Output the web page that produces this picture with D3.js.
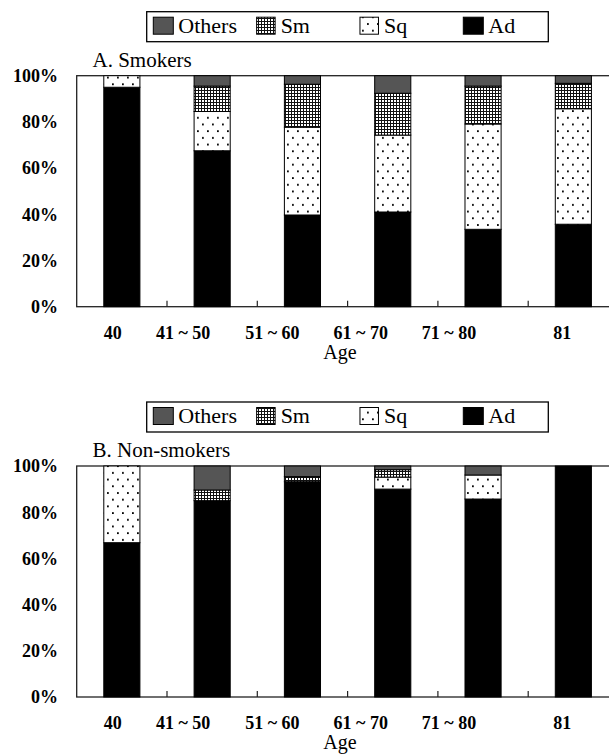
<!DOCTYPE html>
<html>
<head>
<meta charset="utf-8">
<script src="https://cdn.jsdelivr.net/npm/d3@7"></script>
<style>
  body { margin: 0; background: #fff; }
  svg { display: block; }
</style>
</head>
<body>
<div id="viz"></div>
<script>
// chart values
const ages = ["40", "41 ~ 50", "51 ~ 60", "61 ~ 70", "71 ~ 80", "81"];
const keys = ["Ad", "Sq", "Sm", "Others"]; // bottom to top
const legendKeys = ["Others", "Sm", "Sq", "Ad"];
const yTicks = [0, 20, 40, 60, 80, 100];

const smokersAd = [95, 67.5, 39.7, 41, 33.5, 35.7];
const smokersSq = [5, 17, 38, 33.3, 45.6, 50];
const smokersSm = [0, 11, 18.6, 18.1, 16.4, 11];
const smokersOthers = [0, 4.5, 3.7, 7.6, 4.5, 3.3];

const nonAd = [66.8, 85, 93.2, 90, 85.7, 100];
const nonSq = [33.2, 0, 0, 5.2, 10.4, 0];
const nonSm = [0, 4.6, 2.2, 3.2, 0, 0];
const nonOthers = [0, 10.4, 4.6, 1.6, 3.9, 0];

const panels = [
  { title: "A. Smokers", top: 75.7, ad: smokersAd, sq: smokersSq, sm: smokersSm, others: smokersOthers },
  { title: "B. Non-smokers", top: 466, ad: nonAd, sq: nonSq, sm: nonSm, others: nonOthers }
];

const W = 609, H = 756,
    plotLeft = 76.7,
    band = 90.3,
    plotH = 231,
    labelShift = [-9, -29, -30, -32, -34, -11], // the age labels sit left of the bars
    font = "Liberation Serif, Times New Roman, serif";

const svg = d3.select("#viz").append("svg")
    .attr("width", W)
    .attr("height", H);

// fill patterns
const defs = svg.append("defs");
const grid = defs.append("pattern").attr("id", "pSm")
    .attr("patternUnits", "userSpaceOnUse").attr("width", 3).attr("height", 3);
grid.append("rect").attr("width", 3).attr("height", 3).attr("fill", "#fff");
grid.append("rect").attr("x", 0).attr("y", 0).attr("width", 3).attr("height", 1).attr("fill", "#111");
grid.append("rect").attr("x", 0).attr("y", 0).attr("width", 1).attr("height", 3).attr("fill", "#111");

const dots = defs.append("pattern").attr("id", "pSq")
    .attr("patternUnits", "userSpaceOnUse").attr("width", 10).attr("height", 13.4);
dots.append("rect").attr("width", 10).attr("height", 13.4).attr("fill", "#fff");
dots.append("rect").attr("x", 2).attr("y", 3).attr("width", 1.8).attr("height", 1.8).attr("fill", "#000");
dots.append("rect").attr("x", 7).attr("y", 9.7).attr("width", 1.8).attr("height", 1.8).attr("fill", "#000");

const fills = { Ad: "#000", Sq: "url(#pSq)", Sm: "url(#pSm)", Others: "#555" };

const x = d3.scaleBand().domain(ages)
    .range([plotLeft, plotLeft + band * ages.length])
    .paddingInner(0.6).paddingOuter(0.3);

panels.forEach(function (p) {
  const y = d3.scaleLinear().domain([0, 100]).range([p.top + plotH, p.top]);
  const rows = ages.map((a, i) => ({ age: a, Ad: p.ad[i], Sq: p.sq[i], Sm: p.sm[i], Others: p.others[i] }));
  const series = d3.stack().keys(keys)(rows);
  const g = svg.append("g");

  // legend
  const legTop = p.top - 64;
  const leg = g.append("g");
  leg.append("rect")
      .attr("x", 146.7).attr("y", legTop)
      .attr("width", 401.6).attr("height", 30)
      .attr("fill", "#fff").attr("stroke", "#000").attr("stroke-width", 1.3);
  const lx = d3.scalePoint().domain(legendKeys).range([153.3, 463.3]);
  legendKeys.forEach(function (k) {
    leg.append("rect")
        .attr("x", lx(k)).attr("y", legTop + 5.5)
        .attr("width", k === "Others" || k === "Ad" ? 20 : 18.5).attr("height", 17)
        .attr("fill", fills[k]).attr("stroke", "#000").attr("stroke-width", 1);
    leg.append("text")
        .attr("x", lx(k) + (k === "Others" || k === "Ad" ? 25 : 24))
        .attr("y", legTop + 21)
        .attr("font-family", font).attr("font-size", 22)
        .text(k);
  });

  // title
  g.append("text")
      .attr("x", 92.5).attr("y", p.top - 9)
      .attr("font-family", font).attr("font-size", 21)
      .text(p.title);

  // plot frame
  g.append("rect")
      .attr("x", plotLeft).attr("y", p.top)
      .attr("width", band * ages.length).attr("height", plotH)
      .attr("fill", "none").attr("stroke", "#222").attr("stroke-width", 1.3);

  // bars
  g.selectAll("g.layer").data(series).join("g")
      .attr("class", "layer")
      .attr("fill", d => fills[d.key])
    .selectAll("rect")
    .data(d => d.filter(v => v[1] - v[0] > 0))
    .join("rect")
      .attr("x", d => x(d.data.age))
      .attr("width", x.bandwidth())
      .attr("y", d => y(d[1]))
      .attr("height", d => y(d[0]) - y(d[1]))
      .attr("stroke", "#000").attr("stroke-width", 1);

  // y axis labels
  g.selectAll("text.ytick").data(yTicks).join("text")
      .attr("class", "ytick")
      .attr("x", 58).attr("y", d => y(d))
      .attr("dy", "0.35em")
      .attr("text-anchor", "end")
      .attr("font-family", font).attr("font-size", 18).attr("font-weight", "bold")
      .text(d => d + "%");

  // x ticks at category boundaries, pointing inward
  g.selectAll("line.xtick").data(d3.range(1, ages.length)).join("line")
      .attr("class", "xtick")
      .attr("x1", i => plotLeft + i * band).attr("x2", i => plotLeft + i * band)
      .attr("y1", p.top + plotH).attr("y2", p.top + plotH - 6)
      .attr("stroke", "#222").attr("stroke-width", 1.2);

  g.selectAll("text.xlab").data(ages).join("text")
      .attr("class", "xlab")
      .attr("x", (d, i) => x(d) + x.bandwidth() / 2 + labelShift[i])
      .attr("y", p.top + plotH + 32)
      .attr("text-anchor", "middle")
      .attr("font-family", font).attr("font-size", 18).attr("font-weight", "bold")
      .text(d => d);

  g.append("text")
      .attr("x", 340).attr("y", p.top + plotH + 52)
      .attr("text-anchor", "middle")
      .attr("font-family", font).attr("font-size", 20)
      .text("Age");
});
</script>
</body>
</html>
